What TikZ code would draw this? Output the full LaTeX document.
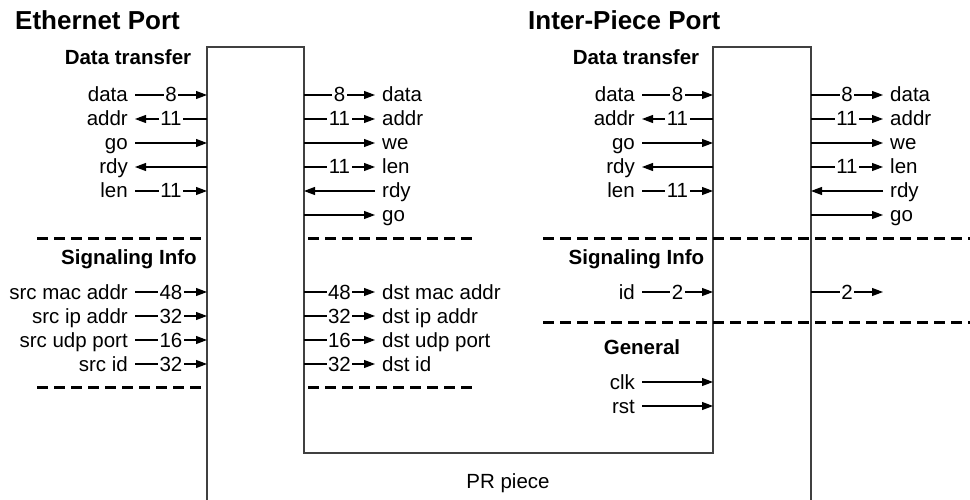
\documentclass[tikz,border=0pt]{standalone}
\usepackage{fontspec}
\setmainfont{Liberation Sans}
\usetikzlibrary{arrows.meta}

\begin{document}
\begin{tikzpicture}[x=1pt,y=-1pt,
  txt/.style={font=\fontsize{20.5}{24}\selectfont, text height=14pt, text depth=0pt},
  lbl/.style={txt, inner ysep=0pt, inner xsep=7pt},
  inl/.style={lbl, anchor=east},
  outl/.style={lbl, anchor=west},
  wnum/.style={txt, fill=white, inner xsep=1.5pt, inner ysep=0pt},
  head/.style={font=\bfseries\fontsize{20.5}{24}\selectfont, text height=14.5pt, text depth=0pt, inner sep=0pt},
  title/.style={font=\bfseries\fontsize{26}{30}\selectfont, text height=18.5pt, text depth=0pt, inner sep=0pt, anchor=west},
  sig/.style={line width=1.1pt, draw=black},
  arr/.style={sig, -{Triangle[length=11pt,width=8pt]}},
  sepline/.style={line width=3pt, dash pattern=on 11pt off 6pt},
  piece/.style={line width=1.5pt, draw=black!75, line join=miter}
]
\useasboundingbox (0,0) rectangle (970,500);

% ---- the PR piece outline ----
\draw[piece] (207,500) -- (207,47) -- (304,47) -- (304,453) -- (713,453)
  -- (713,47) -- (811,47) -- (811,500);
\node[txt, inner sep=0pt] (prpiece) at (508,481) {PR piece};

% ---- titles ----
\node[title] (eth) at (15,20.5) {Ethernet Port};
\node[title] (ipp) at (528,20.5) {Inter-Piece Port};

% ---- section headings ----
\node[head] (e-dt) at (128,57) {Data transfer};
\node[head] (e-si) at (129,257) {Signaling Info};
\node[head] (i-dt) at (636,57) {Data transfer};
\node[head] (i-si) at (636.5,257) {Signaling Info};
\node[head] (i-gen) at (642,347) {General};

% ---- separators ----
\draw[sepline] (37,238) -- (207,238);
\draw[sepline] (37,387) -- (207,387);
\draw[sepline] (308,238) -- (473,238);
\draw[sepline] (308,387) -- (473,387);
\draw[sepline] (543,238) -- (970,238);
\draw[sepline] (543,322) -- (970,322);

% ---- Ethernet port, outer side ----
\node[inl] (ea1) at (135,95) {data};
\node[inl] (ea2) at (135,119) {addr};
\node[inl] (ea3) at (135,143) {go};
\node[inl] (ea4) at (135,167) {rdy};
\node[inl] (ea5) at (135,191) {len};
\coordinate (pa1) at (207,95);
\coordinate (pa2) at (207,119);
\coordinate (pa3) at (207,143);
\coordinate (pa4) at (207,167);
\coordinate (pa5) at (207,191);
\draw[arr] (ea1) -- node[wnum]{8} (pa1);
\draw[arr] (pa2) -- node[wnum]{11} (ea2);
\draw[arr] (ea3) -- (pa3);
\draw[arr] (pa4) -- (ea4);
\draw[arr] (ea5) -- node[wnum]{11} (pa5);

\node[inl] (es1) at (135,292) {src mac addr};
\node[inl] (es2) at (135,316) {src ip addr};
\node[inl] (es3) at (135,340) {src udp port};
\node[inl] (es4) at (135,364) {src id};
\coordinate (ps1) at (207,292);
\coordinate (ps2) at (207,316);
\coordinate (ps3) at (207,340);
\coordinate (ps4) at (207,364);
\draw[arr] (es1) -- node[wnum]{48} (ps1);
\draw[arr] (es2) -- node[wnum]{32} (ps2);
\draw[arr] (es3) -- node[wnum]{16} (ps3);
\draw[arr] (es4) -- node[wnum]{32} (ps4);

% ---- Ethernet port, piece side ----
\coordinate (qa1) at (304,95);
\coordinate (qa2) at (304,119);
\coordinate (qa3) at (304,143);
\coordinate (qa4) at (304,167);
\coordinate (qa5) at (304,191);
\coordinate (qa6) at (304,215);
\node[outl] (eb1) at (375,95) {data};
\node[outl] (eb2) at (375,119) {addr};
\node[outl] (eb3) at (375,143) {we};
\node[outl] (eb4) at (375,167) {len};
\node[outl] (eb5) at (375,191) {rdy};
\node[outl] (eb6) at (375,215) {go};
\draw[arr] (qa1) -- node[wnum]{8} (eb1);
\draw[arr] (qa2) -- node[wnum]{11} (eb2);
\draw[arr] (qa3) -- (eb3);
\draw[arr] (qa4) -- node[wnum]{11} (eb4);
\draw[arr] (eb5) -- (qa5);
\draw[arr] (qa6) -- (eb6);

\coordinate (qs1) at (304,292);
\coordinate (qs2) at (304,316);
\coordinate (qs3) at (304,340);
\coordinate (qs4) at (304,364);
\node[outl] (et1) at (375,292) {dst mac addr};
\node[outl] (et2) at (375,316) {dst ip addr};
\node[outl] (et3) at (375,340) {dst udp port};
\node[outl] (et4) at (375,364) {dst id};
\draw[arr] (qs1) -- node[wnum]{48} (et1);
\draw[arr] (qs2) -- node[wnum]{32} (et2);
\draw[arr] (qs3) -- node[wnum]{16} (et3);
\draw[arr] (qs4) -- node[wnum]{32} (et4);

% ---- Inter-piece port, piece side ----
\node[inl] (ia1) at (642,95) {data};
\node[inl] (ia2) at (642,119) {addr};
\node[inl] (ia3) at (642,143) {go};
\node[inl] (ia4) at (642,167) {rdy};
\node[inl] (ia5) at (642,191) {len};
\coordinate (ra1) at (713,95);
\coordinate (ra2) at (713,119);
\coordinate (ra3) at (713,143);
\coordinate (ra4) at (713,167);
\coordinate (ra5) at (713,191);
\draw[arr] (ia1) -- node[wnum]{8} (ra1);
\draw[arr] (ra2) -- node[wnum]{11} (ia2);
\draw[arr] (ia3) -- (ra3);
\draw[arr] (ra4) -- (ia4);
\draw[arr] (ia5) -- node[wnum]{11} (ra5);

\node[inl] (is1) at (642,292) {id};
\coordinate (rs1) at (713,292);
\draw[arr] (is1) -- node[wnum]{2} (rs1);

\node[inl] (ig1) at (642,382) {clk};
\node[inl] (ig2) at (642,406) {rst};
\coordinate (rg1) at (713,382);
\coordinate (rg2) at (713,406);
\draw[arr] (ig1) -- (rg1);
\draw[arr] (ig2) -- (rg2);

% ---- Inter-piece port, outer side ----
\coordinate (sa1) at (811,95);
\coordinate (sa2) at (811,119);
\coordinate (sa3) at (811,143);
\coordinate (sa4) at (811,167);
\coordinate (sa5) at (811,191);
\coordinate (sa6) at (811,215);
\node[outl] (ib1) at (883,95) {data};
\node[outl] (ib2) at (883,119) {addr};
\node[outl] (ib3) at (883,143) {we};
\node[outl] (ib4) at (883,167) {len};
\node[outl] (ib5) at (883,191) {rdy};
\node[outl] (ib6) at (883,215) {go};
\draw[arr] (sa1) -- node[wnum]{8} (ib1);
\draw[arr] (sa2) -- node[wnum]{11} (ib2);
\draw[arr] (sa3) -- (ib3);
\draw[arr] (sa4) -- node[wnum]{11} (ib4);
\draw[arr] (ib5) -- (sa5);
\draw[arr] (sa6) -- (ib6);

\coordinate (ss1) at (811,292);
\coordinate (it1) at (883,292);
\draw[arr] (ss1) -- node[wnum]{2} (it1);

\end{tikzpicture}
\end{document}
